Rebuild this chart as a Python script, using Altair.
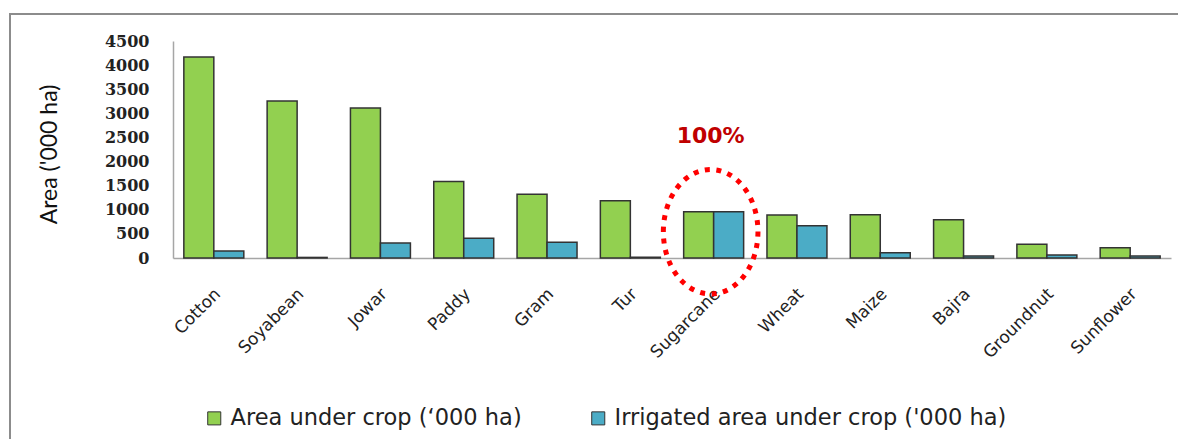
import altair as alt
import pandas as pd

crops = ["Cotton", "Soyabean", "Jowar", "Paddy", "Gram", "Tur", "Sugarcane",
         "Wheat", "Maize", "Bajra", "Groundnut", "Sunflower"]
area = [4170, 3255, 3110, 1585, 1320, 1185, 960, 890, 895, 795, 285, 215]
irrigated = [145, 12, 310, 410, 325, 15, 960, 670, 110, 40, 62, 40]
series = ["Area under crop (\u2018000 ha)", "Irrigated area under crop ('000 ha)"]
colors = ["#92D050", "#4BACC6"]
y_ticks = [0, 500, 1000, 1500, 2000, 2500, 3000, 3500, 4000, 4500]

highlight_crop = "Sugarcane"
highlight_label = "100%"
highlight_label_y = 2540
highlight_ellipse_y = 545

rows = []
for c, a, i in zip(crops, area, irrigated):
    rows.append({"crop": c, "series": series[0], "value": a})
    rows.append({"crop": c, "series": series[1], "value": i})
df = pd.DataFrame(rows)

x_scale = alt.Scale(domain=crops, paddingInner=0.28, paddingOuter=0.13)
y_scale = alt.Scale(domain=[0, 4500], nice=False)

x_enc = alt.X("crop:N", sort=crops, scale=x_scale,
              axis=alt.Axis(title=None, labelAngle=-45, labelAlign="right",
                            labelBaseline="middle", labelFont="DejaVu Sans",
                            labelFontSize=17, labelColor="#222222",
                            labelPadding=33, labelOffset=4, ticks=False,
                            domainColor="#A6A6A6", domainWidth=1.5))
y_enc = alt.Y("value:Q", scale=y_scale,
              axis=alt.Axis(values=y_ticks, format="d", grid=False, ticks=False,
                            labelFont="DejaVu Serif", labelFontWeight="bold",
                            labelFontSize=16, labelColor="#222222",
                            labelPadding=24, domainColor="#A6A6A6",
                            domainWidth=1.5,
                            title="Area ('000 ha)", titleFont="Lato",
                            titleFontSize=23, titleFontWeight="normal",
                            titleColor="#111111", titleAngle=270,
                            titleAlign="center", titleBaseline="middle",
                            titleX=-124, titleY=113))

border = alt.Chart(pd.DataFrame({"k": [0]})).mark_rect(
    fillOpacity=0, stroke="#8C8C8C", strokeWidth=2
).encode(x=alt.value(-163), x2=alt.value(1030), y=alt.value(-27), y2=alt.value(420))

bars = alt.Chart(df).mark_bar(stroke="#333333", strokeWidth=1.5).encode(
    x=x_enc,
    xOffset=alt.XOffset("series:N", sort=series,
                        scale=alt.Scale(domain=series, paddingInner=0, paddingOuter=0)),
    y=y_enc,
    color=alt.Color("series:N", sort=series,
                    scale=alt.Scale(domain=series, range=colors),
                    legend=alt.Legend(title=None, orient="none", direction="horizontal",
                                      legendX=30, legendY=366, symbolType="square",
                                      symbolSize=170, symbolStrokeColor="#333333",
                                      symbolStrokeWidth=1, labelFont="DejaVu Sans",
                                      labelFontSize=22.5, labelColor="#222222",
                                      labelOffset=5, columnPadding=65,
                                      labelLimit=600)),
)

ann_df = pd.DataFrame({"crop": [highlight_crop], "value": [highlight_label_y],
                       "label": [highlight_label]})
ell_df = pd.DataFrame({"crop": [highlight_crop], "value": [highlight_ellipse_y]})

label = alt.Chart(ann_df).mark_text(
    font="DejaVu Sans", fontWeight="bold", fontSize=22, color="#C00000",
    baseline="middle", align="center", dx=-3
).encode(x=x_enc, y=y_enc, text="label:N")

ellipse_path = "M -0.76 0 A 0.76 1 0 1 1 0.76 0 A 0.76 1 0 1 1 -0.76 0 Z"
ellipse = alt.Chart(ell_df).mark_point(
    shape=ellipse_path, size=15500, filled=False, stroke="#FF0000",
    strokeWidth=5, strokeDash=[5, 6.5], opacity=1, xOffset=-3
).encode(x=x_enc, y=y_enc)

chart = alt.layer(border, bars, ellipse, label).properties(
    width=998, height=217,
    autosize=alt.AutoSizeParams(type="none"),
    padding={"left": 165, "top": 33, "right": 7, "bottom": 181},
    background="white",
).configure_view(strokeWidth=0)

chart.save("out.html", embed_options={"renderer": "svg", "actions": False})
